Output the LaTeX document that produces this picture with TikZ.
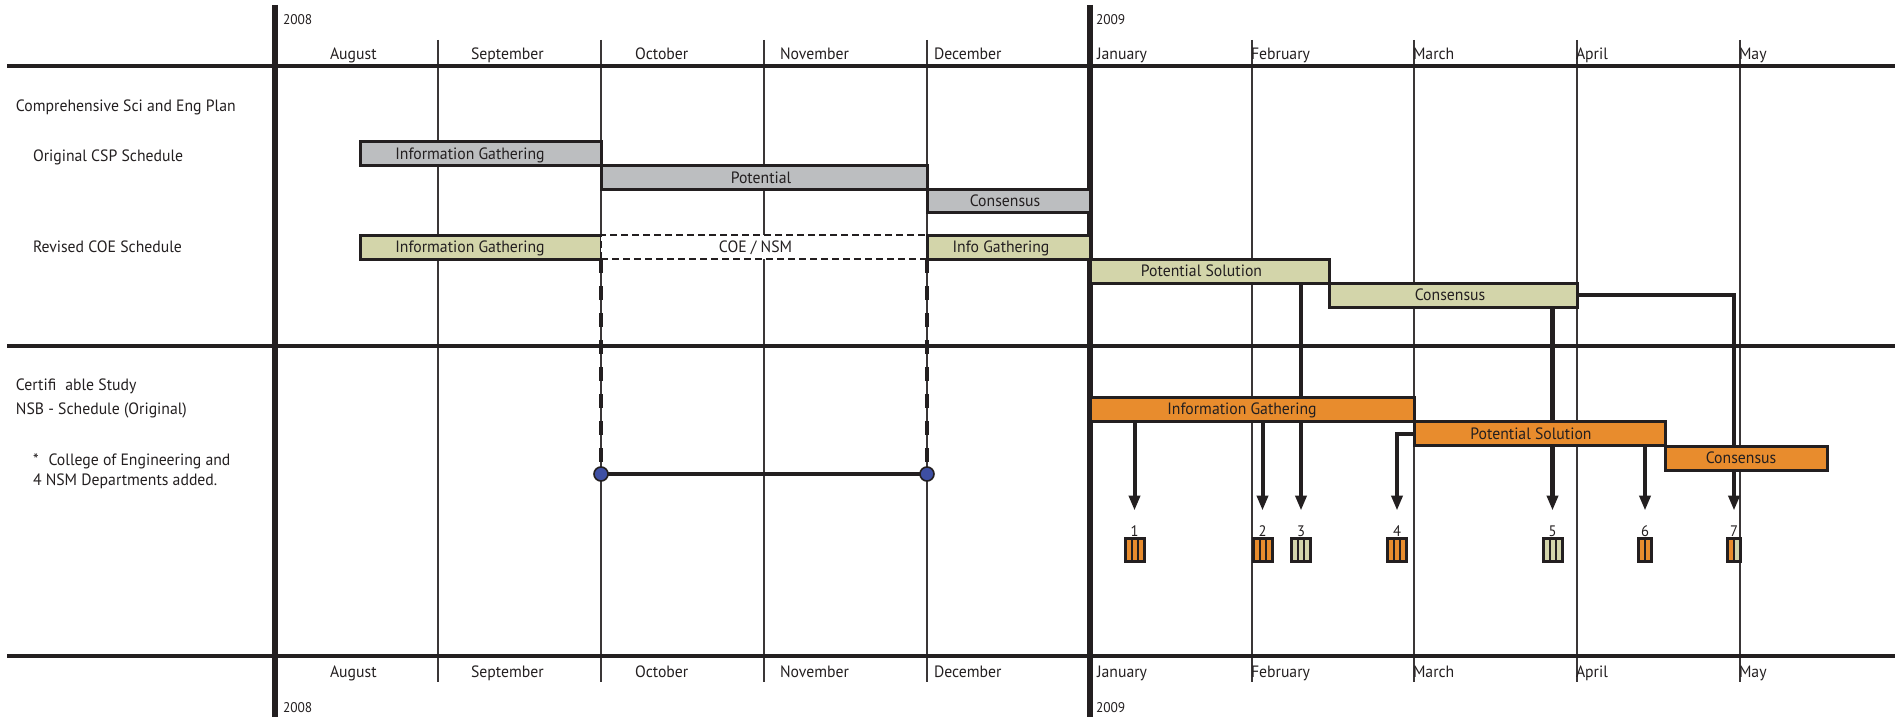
\documentclass[tikz,border=0pt]{standalone}
\usepackage{fontspec}
\setmainfont[FakeStretch=0.96]{PT Sans}
\usetikzlibrary{arrows.meta}
\definecolor{cLine}{HTML}{231F20}
\definecolor{cGrid}{HTML}{3A3637}
\definecolor{cGray}{HTML}{BCBEC0}
\definecolor{cKhaki}{HTML}{D3D5AA}
\definecolor{cOrange}{HTML}{E88C2D}
\definecolor{cBlue}{HTML}{3E4FA3}
\pgfdeclarelayer{gridl}
\pgfdeclarelayer{connl}
\pgfsetlayers{gridl,connl,main}
\tikzset{
  bar/.style={draw=cLine, line width=1.5pt, anchor=north west, minimum height=12pt},
  graybar/.style={bar, fill=cGray, minimum height=11.75pt},
  khakibar/.style={bar, fill=cKhaki},
  orangebar/.style={bar, fill=cOrange},
  dashbox/.style={bar, draw=cLine, fill=white, line width=1.2pt, dash pattern=on 3.5pt off 2pt},
  blbl/.style={anchor=base},
  mlbl/.style={anchor=base west},
  ylbl/.style={anchor=base west, font=\fontsize{7}{8}\selectfont},
  nlbl/.style={anchor=base, font=\fontsize{7.6}{8}\selectfont},
  thinline/.style={draw=cGrid, line width=0.65pt},
  hline/.style={draw=cLine, line width=1.65pt},
  yearline/.style={draw=cLine, line width=2.6pt},
  conn/.style={draw=cLine, line width=2pt, -{Triangle[length=7.5pt,width=5.5pt]}, shorten >=14pt},
  dvert/.style={draw=cLine, line width=2pt, dash pattern=on 6.75pt off 6.75pt},
  dot/.style={circle, draw=cLine, line width=0.8pt, fill=cBlue, minimum size=7pt},
  icon/.style={draw=cLine, line width=1.5pt, minimum height=11.5pt},
  iconthree/.style={icon, minimum width=9.5pt, path picture={
    \fill[cLine] ([xshift=-2pt]path picture bounding box.south) rectangle ([xshift=-1pt]path picture bounding box.north);
    \fill[cLine] ([xshift=1pt]path picture bounding box.south) rectangle ([xshift=2pt]path picture bounding box.north);}},
  icontwo/.style={icon, minimum width=6.5pt, path picture={
    \fill[cLine] ([xshift=-0.5pt]path picture bounding box.south) rectangle ([xshift=0.5pt]path picture bounding box.north);}},
  iconmix/.style={icon, minimum width=6.5pt, fill=cOrange, path picture={
    \fill[cKhaki] (path picture bounding box.south) rectangle (path picture bounding box.north east);
    \fill[cLine] ([xshift=-0.5pt]path picture bounding box.south) rectangle ([xshift=0.5pt]path picture bounding box.north);}},
}
\begin{document}
\begin{tikzpicture}[x=0.5pt,y=-0.5pt, every node/.style={inner sep=0pt, outer sep=0pt, text=cLine}, font=\fontsize{8.2}{10}\selectfont]
\useasboundingbox (0,0) rectangle (1895,717);

% ---------- grid ----------
\begin{pgfonlayer}{gridl}
  \foreach \mx in {438,601,764,927,1252,1414,1577,1740}
    \draw[thinline] (\mx,40) -- (\mx,682);
  \draw[hline] (7,66) -- (1895,66);
  \draw[hline] (7,346) -- (1895,346);
  \draw[hline] (7,656) -- (1895,656);
  \draw[yearline] (275,5) -- (275,717);
  \draw[yearline] (1090,5) -- (1090,717);
\end{pgfonlayer}

% ---------- year and month labels ----------
\node[ylbl] (y8t) at (283,25) {2008};
\node[ylbl] (y9t) at (1096,25) {2009};
\node[ylbl] (y8b) at (283,712) {2008};
\node[ylbl] (y9b) at (1096,712) {2009};

\node[mlbl] (augt) at (330,60) {August};
\node[mlbl] (sept) at (471,60) {September};
\node[mlbl] (octt) at (635,60) {October};
\node[mlbl] (novt) at (780,60) {November};
\node[mlbl] (dect) at (934,60) {December};
\node[mlbl] (jant) at (1097,60) {January};
\node[mlbl] (febt) at (1251,60) {February};
\node[mlbl] (mart) at (1413,60) {March};
\node[mlbl] (aprt) at (1576,60) {April};
\node[mlbl] (mayt) at (1739,60) {May};

\node[mlbl] (augb) at (330,677) {August};
\node[mlbl] (sepb) at (471,677) {September};
\node[mlbl] (octb) at (635,677) {October};
\node[mlbl] (novb) at (780,677) {November};
\node[mlbl] (decb) at (934,677) {December};
\node[mlbl] (janb) at (1097,677) {January};
\node[mlbl] (febb) at (1251,677) {February};
\node[mlbl] (marb) at (1413,677) {March};
\node[mlbl] (aprb) at (1576,677) {April};
\node[mlbl] (mayb) at (1739,677) {May};

% ---------- left labels ----------
\node[mlbl] (l1) at (16,112) {Comprehensive Sci and Eng Plan};
\node[mlbl] (l2) at (33,162) {Original CSP Schedule};
\node[mlbl] (l3) at (33,252) {Revised COE Schedule};
\node[mlbl] (l4) at (16,390) {Certifi\hspace{4.5pt}able Study};
\node[mlbl] (l5) at (16,414) {NSB - Schedule (Original)};
\node[mlbl] (l6) at (33,465) {*\hspace{5pt}College of Engineering and};
\node[mlbl] (l7) at (33,485) {4 NSM Departments added.};

% ---------- bars ----------
\node[graybar, minimum width=120.5pt] (gIG) at (360,142) {};
\node[graybar, minimum width=163pt] (gPot) at (601,165.5) {};
\node[graybar, minimum width=81.5pt] (gCon) at (927,189) {};

\node[khakibar, minimum width=120.5pt] (rIG) at (360,235) {};
\node[dashbox, minimum width=163pt] (coe) at (601,235) {};
\node[khakibar, minimum width=81.5pt] (rInfo) at (927,235) {};
\node[khakibar, minimum width=119.5pt] (kPS) at (1090,259) {};
\node[khakibar, minimum width=124pt] (kCon) at (1329,283) {};

\node[orangebar, minimum width=162pt] (oIG) at (1090,397) {};
\node[orangebar, minimum width=125.5pt] (oPS) at (1414,421.5) {};
\node[orangebar, minimum width=81pt] (oCon) at (1665,446) {};

\node[blbl] (gIGt) at ([xshift=-5.25pt,yshift=-2.9pt]gIG.center) {Information Gathering};
\node[blbl] (gPott) at ([xshift=-1.5pt,yshift=-2.9pt]gPot.center) {Potential};
\node[blbl] (gCont) at ([xshift=-1.75pt,yshift=-2.9pt]gCon.center) {Consensus};
\node[blbl] (rIGt) at ([xshift=-5.25pt,yshift=-2.9pt]rIG.center) {Information Gathering};
\node[blbl] (coet) at ([xshift=-4.25pt,yshift=-2.9pt]coe.center) {COE / NSM};
\node[blbl] (rInfot) at ([xshift=-3.75pt,yshift=-2.9pt]rInfo.center) {Info Gathering};
\node[blbl] (kPSt) at ([xshift=-4pt,yshift=-2.9pt]kPS.center) {Potential Solution};
\node[blbl] (kCont) at ([xshift=-1.5pt,yshift=-2.9pt]kCon.center) {Consensus};
\node[blbl] (oIGt) at ([xshift=-5pt,yshift=-2.9pt]oIG.center) {Information Gathering};
\node[blbl] (oPSt) at ([xshift=-4.25pt,yshift=-2.9pt]oPS.center) {Potential Solution};
\node[blbl] (oCont) at ([xshift=-2.5pt,yshift=-2.9pt]oCon.center) {Consensus};

% ---------- circles ----------
\node[dot] (c1) at (601,474) {};
\node[dot] (c2) at (927,474) {};

% ---------- icons and numbers ----------
\node[iconthree, fill=cOrange] (i1) at (1134.5,550) {};
\node[iconthree, fill=cOrange] (i2) at (1262.5,550) {};
\node[iconthree, fill=cKhaki] (i3) at (1301,550) {};
\node[iconthree, fill=cOrange] (i4) at (1397,550) {};
\node[iconthree, fill=cKhaki] (i5) at (1552.5,550) {};
\node[icontwo, fill=cOrange] (i6) at (1645,550) {};
\node[iconmix] (i7) at (1734,550) {};

\node[nlbl] (n1) at (1134.5,536) {1};
\node[nlbl] (n2) at (1262.5,536) {2};
\node[nlbl] (n3) at (1301,536) {3};
\node[nlbl] (n4) at (1397,536) {4};
\node[nlbl] (n5) at (1552.5,536) {5};
\node[nlbl] (n6) at (1645,536) {6};
\node[nlbl] (n7) at (1734,536) {7};

% ---------- connectors ----------
\begin{pgfonlayer}{connl}
  \draw[dvert] (coe.south west) -- (c1);
  \draw[dvert] (coe.south east) -- (c2);
  \draw[draw=cLine, line width=2pt] (c1) -- (c2);
  \draw[conn] (oIG.south -| i1) -- (i1);
  \draw[conn] (oIG.south -| i2) -- (i2);
  \draw[conn] (kPS.south -| i3) -- (i3);
  \draw[conn] (oPS.west) -| (i4);
  \draw[conn, line width=2.3pt] (kCon.south -| i5) -- (i5);
  \draw[conn] (oPS.south -| i6) -- (i6);
  \draw[conn] (kCon.east) -| (i7);
\end{pgfonlayer}
\end{tikzpicture}
\end{document}
